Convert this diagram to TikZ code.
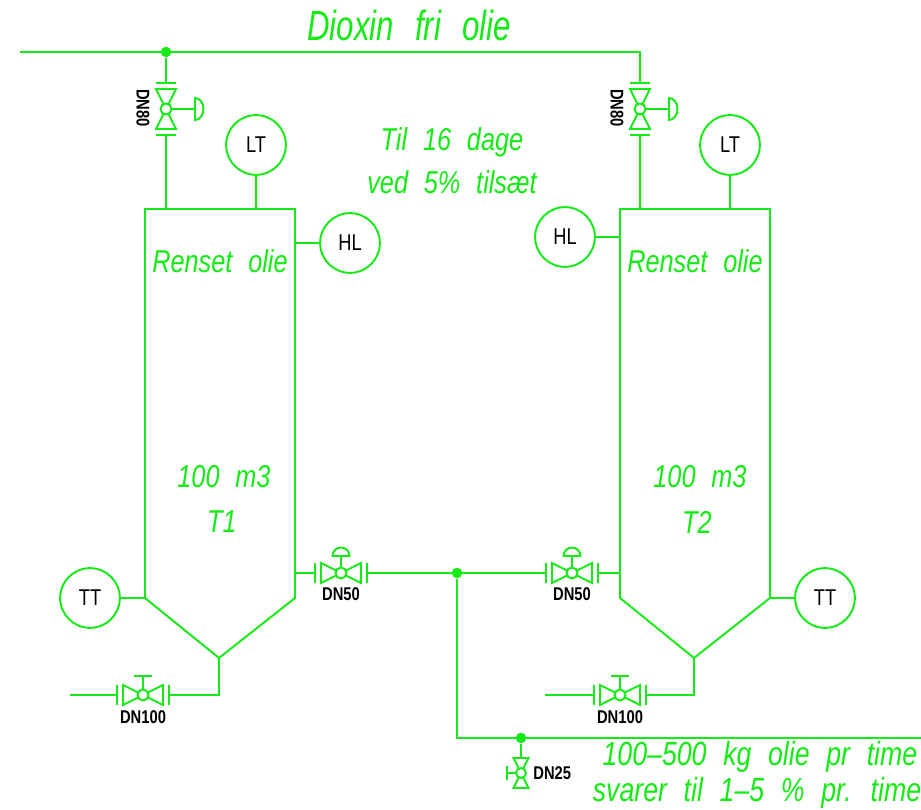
\documentclass[tikz,border=0pt]{standalone}
\usepackage{fontspec}
\setmainfont{Liberation Sans}
\newfontfamily\cadfont{Liberation Sans}[FakeStretch=0.8]
\newfontfamily\titlefont{Liberation Sans}[FakeStretch=0.74]
\newfontfamily\tagfont{Liberation Sans}[FakeStretch=0.8]
\newcommand\widespace{\spaceskip=0.5em\relax}
\definecolor{pipegreen}{RGB}{20,235,20}

\tikzset{
    pipe/.style={draw=pipegreen, line width=1.1pt},
    note/.style={text=pipegreen, font=\cadfont\itshape\fontsize{18}{20}\selectfont\widespace, inner sep=0pt},
    tag/.style={font=\tagfont\bfseries\fontsize{10.5}{11}\selectfont, inner sep=0pt},
    instr/.style={circle, draw=pipegreen, line width=1.1pt, minimum size=34pt, inner sep=0pt, font=\tagfont\fontsize{13}{14}\selectfont},
    junction/.style={circle, fill=pipegreen, minimum size=6pt, inner sep=0pt},
    % #1 = stem length, #2 = half width of the dome
    pics/domevalve/.style 2 args={code={
        \draw[pipe] (-26,-10) -- (-26,10) (26,-10) -- (26,10);
        \draw[pipe] (-20,-10) -- (-20,10) -- (20,-10) -- (20,10) -- cycle;
        \draw[pipe] (0,0) -- (0,-#1);
        \draw[pipe, fill=white] (0,0) circle[radius=5.5];
        \draw[pipe] (-#2,-#1) arc[start angle=180, end angle=360, x radius=#2, y radius=8.5] -- cycle;
        \coordinate (-w) at (-26,0);
        \coordinate (-e) at (26,0);
    }},
    pics/barvalve/.style={code={
        \draw[pipe] (-26,-10) -- (-26,10) (26,-10) -- (26,10);
        \draw[pipe] (-20,-10) -- (-20,10) -- (20,-10) -- (20,10) -- cycle;
        \draw[pipe] (0,0) -- (0,-19) (-9,-19) -- (9,-19);
        \draw[pipe, fill=white] (0,0) circle[radius=5.5];
        \coordinate (-w) at (-26,0);
        \coordinate (-e) at (26,0);
    }},
    pics/smallvalve/.style={code={
        \draw[pipe] (-7.5,-15) -- (7.5,-15) -- (-7.5,15) -- (7.5,15) -- cycle;
        \draw[pipe] (0,0) -- (-14,0) (-14,-7) -- (-14,7);
        \draw[pipe, fill=white] (0,0) circle[radius=5];
        \coordinate (-n) at (0,-15);
    }}
}

\begin{document}
\begin{tikzpicture}[x=0.02cm, y=-0.02cm]
\useasboundingbox (0,0) rectangle (921,810);

% Tanks
\coordinate (t1tl) at (145,209); \coordinate (t1tr) at (295,209);
\coordinate (t1bl) at (145,598); \coordinate (t1br) at (295,598);
\coordinate (t1cone) at (219,658);
\coordinate (t2tl) at (620,209); \coordinate (t2tr) at (770,209);
\coordinate (t2bl) at (620,598); \coordinate (t2br) at (770,598);
\coordinate (t2cone) at (694,658);
\draw[pipe] (t1cone) -- (t1bl) -- (t1tl) -- (t1tr) -- (t1br) -- cycle;
\draw[pipe] (t2cone) -- (t2bl) -- (t2tl) -- (t2tr) -- (t2br) -- cycle;

% Instruments
\node[instr] (lt1) at (256,145) {LT};
\node[instr] (hl1) at (350,243) {HL};
\node[instr] (tt1) at (90,598) {TT};
\node[instr] (lt2) at (730,145) {LT};
\node[instr] (hl2) at (565,237) {HL};
\node[instr] (tt2) at (825,598) {TT};
\draw[pipe] (lt1) -- (lt1 |- t1tl);
\draw[pipe] (hl1) -- (hl1 -| t1tr);
\draw[pipe] (tt1) -- (t1bl);
\draw[pipe] (lt2) -- (lt2 |- t2tl);
\draw[pipe] (hl2) -- (hl2 -| t2tl);
\draw[pipe] (tt2) -- (t2br);

% Valves
\pic[rotate=-90] (v80a) at (166,109) {domevalve={29}{11}};
\pic[rotate=-90] (v80b) at (640,109) {domevalve={29}{11}};
\pic (v50a) at (341,573) {domevalve={17}{8.5}};
\pic (v50b) at (572,573) {domevalve={17}{8.5}};
\pic (v100a) at (143,695) {barvalve};
\pic (v100b) at (620,695) {barvalve};
\pic (v25) at (521,773) {smallvalve};

% Junctions
\node[junction] (j1) at (166,52) {};
\node[junction] (j2) at (457,573) {};
\node[junction] (j3) at (521,738) {};
\coordinate (inl) at (20,52);
\coordinate (topr) at (640,52);
\coordinate (outr) at (921,738);
\coordinate (drain1) at (70,695);
\coordinate (drain2) at (545,695);

% Connections
\draw[pipe] (inl) -- (topr) -- (v80b-w);
\draw[pipe] (j1) -- (v80a-w);
\draw[pipe] (v80a-e) -- (v80a-e |- t1tl);
\draw[pipe] (v80b-e) -- (v80b-e |- t2tl);
\draw[pipe] (v50a-w) -- (v50a-w -| t1tr);
\draw[pipe] (v50a-e) -- (v50b-w);
\draw[pipe] (v50b-e) -- (v50b-e -| t2tl);
\draw[pipe] (j2) |- (outr);
\draw[pipe] (j3) -- (v25-n);
\draw[pipe] (drain1) -- (v100a-w);
\draw[pipe] (v100a-e) -| (t1cone);
\draw[pipe] (drain2) -- (v100b-w);
\draw[pipe] (v100b-e) -| (t2cone);

% Labels
\node[tag, rotate=-90] (dn80a) at (143,108) {DN80};
\node[tag, rotate=-90] (dn80b) at (617,108) {DN80};
\node[tag] (dn50a) at (341,594) {DN50};
\node[tag] (dn50b) at (572,594) {DN50};
\node[tag] (dn100a) at (143,717) {DN100};
\node[tag] (dn100b) at (620,717) {DN100};
\node[tag, anchor=west] (dn25) at (533,773) {DN25};

% Texts
\node[note, font=\titlefont\itshape\fontsize{24}{26}\selectfont\widespace] (title) at (409,25) {Dioxin fri olie};
\node[note] (dage) at (452,142) {Til 16 dage};
\node[note] (tilsaet) at (452,182) {ved 5\% tilsæt};
\node[note] (ren1) at (220,261) {Renset olie};
\node[note] (ren2) at (695,261) {Renset olie};
\node[note] (vol1) at (224,477) {100 m3};
\node[note] (name1) at (222,522) {T1};
\node[note] (vol2) at (700,477) {100 m3};
\node[note] (name2) at (697,522) {T2};
\node[note, font=\cadfont\itshape\fontsize{19}{21}\selectfont\widespace] (flow) at (760,757) {100–500 kg olie pr time};
\node[note, font=\cadfont\itshape\fontsize{19}{21}\selectfont\widespace] (rate) at (757,793) {svarer til 1–5 \% pr. time};
\end{tikzpicture}
\end{document}
